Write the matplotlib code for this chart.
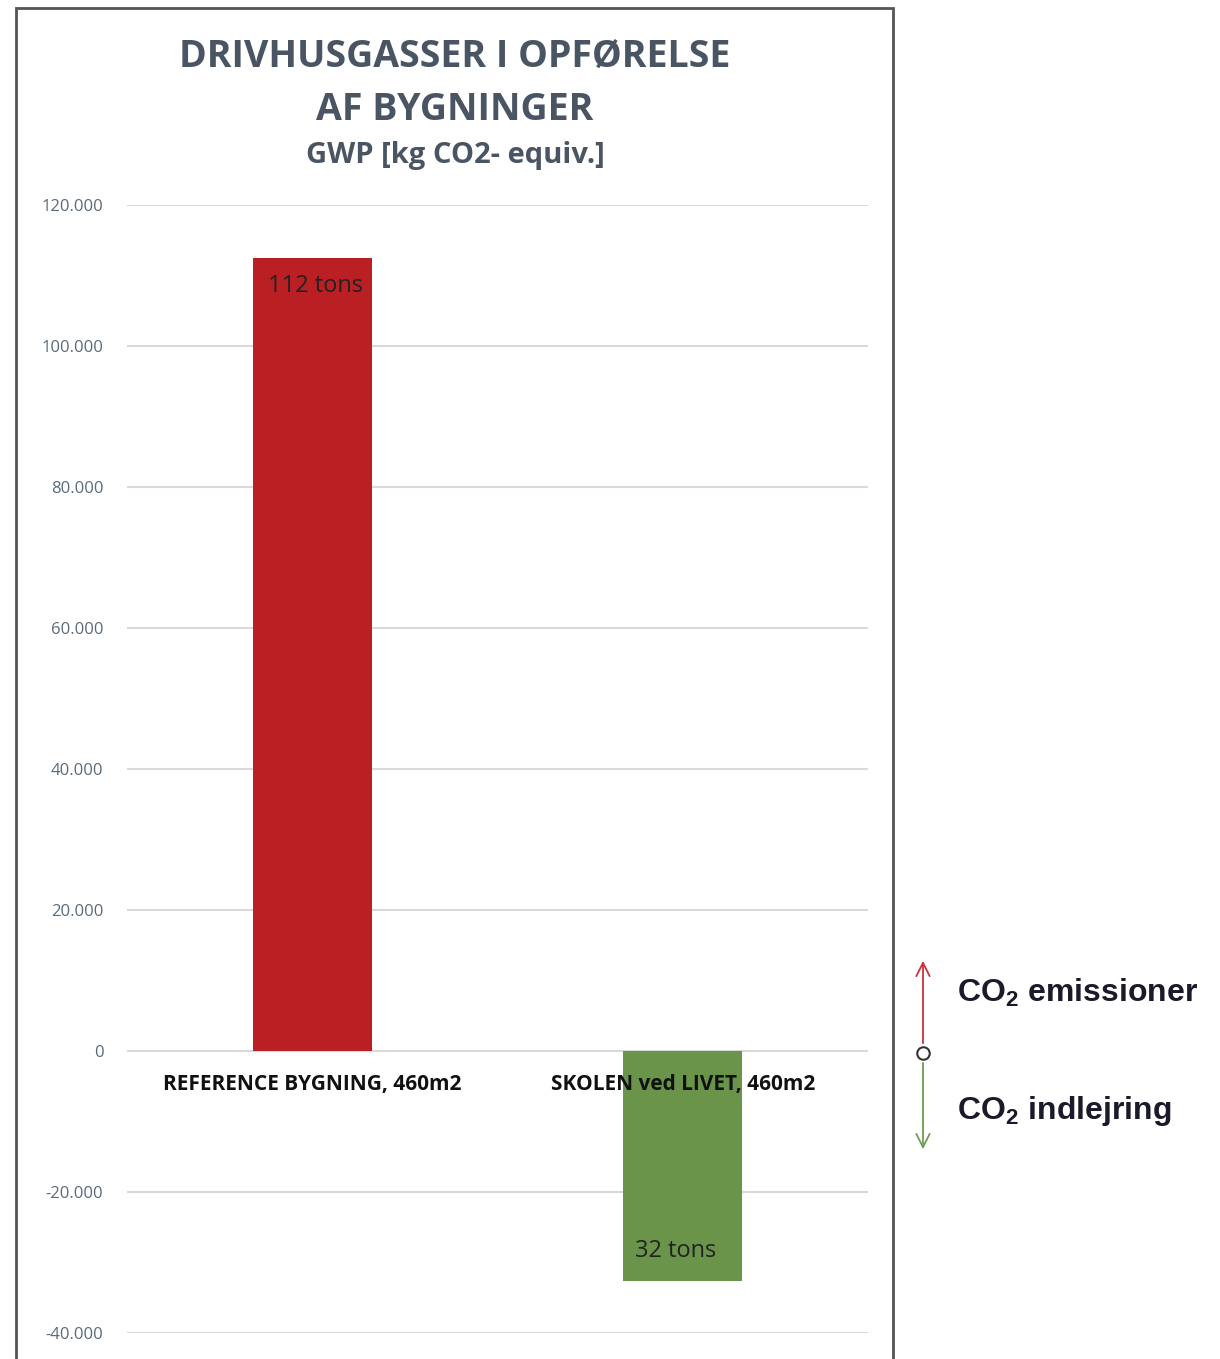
import matplotlib
matplotlib.use('Agg')
import matplotlib.pyplot as plt
from matplotlib.patches import Rectangle, FancyArrowPatch

categories = ['REFERENCE BYGNING, 460m2', 'SKOLEN ved LIVET, 460m2']
values = [112500, -32600]
bar_labels = ['112 tons', '32 tons']
colors = ['#BA1F24', '#6A944A']
yticks = [-40000, -20000, 0, 20000, 40000, 60000, 80000, 100000, 120000]
ytick_labels = ['-40.000', '-20.000', '0', '20.000', '40.000', '60.000', '80.000', '100.000', '120.000']
side_labels = [r'CO$_\mathbf{2}$ emissioner', r'CO$_\mathbf{2}$ indlejring']

plt.rcParams['mathtext.fontset'] = 'custom'
plt.rcParams['mathtext.bf'] = 'Liberation Sans:bold'
plt.rcParams['mathtext.rm'] = 'Liberation Sans:bold'

W, H = 1220, 1359
fig = plt.figure(figsize=(W / 100, H / 100), dpi=100)
fam = ['Open Sans', 'DejaVu Sans']

# chart frame
fig.patches.append(Rectangle((16 / W, -0.01), (893 - 16) / W, 1 - 8 / H + 0.01,
                             transform=fig.transFigure, fill=False,
                             edgecolor='#555555', linewidth=2))

# axes: x 127..868, y from 0 at 1051; 20000 per 141 px
y_top = 205
y_bot = 1333
ax = fig.add_axes([127 / W, 1 - y_bot / H, (868 - 127) / W, (y_bot - y_top) / H])
ax.set_xlim(-0.5, 1.5)
ax.set_ylim(-40000, 120000)
ax.bar(range(len(values)), values, width=0.32, color=colors, zorder=3)
ax.set_yticks(yticks)
ax.set_yticklabels(ytick_labels, family=fam, fontsize=12, color='#5A6A7A')
ax.tick_params(axis='y', length=0, pad=17)
ax.set_xticks([])
for s in ax.spines.values():
    s.set_visible(False)
ax.grid(axis='y', color='#D9D9D9', linewidth=1.5, zorder=0)
ax.set_facecolor('none')

for i, (v, lab) in enumerate(zip(values, bar_labels)):
    if v > 0:
        ax.text(i + 0.01, v - 4000, lab, ha='center', va='center',
                family=fam, fontsize=17, color='#222222', zorder=4)
    else:
        ax.text(i - 0.02, v + 4200, lab, ha='center', va='center',
                family=fam, fontsize=17, color='#222222', zorder=4)

for i, c in enumerate(categories):
    ax.text(i, -4700, c, ha='center', va='center', family=fam,
            fontsize=15, fontweight='bold', color='#111111', zorder=4)

# titles
fig.text(455 / W, 1 - 57 / H, 'DRIVHUSGASSER I OPFØRELSE', ha='center', va='center',
         family=fam, fontsize=27, fontweight='bold', color='#4A5564')
fig.text(455 / W, 1 - 110 / H, 'AF BYGNINGER', ha='center', va='center',
         family=fam, fontsize=27, fontweight='bold', color='#4A5564')
fig.text(455 / W, 1 - 156 / H, 'GWP [kg CO2- equiv.]', ha='center', va='center',
         family=fam, fontsize=21, fontweight='bold', color='#4A5564')

# side legend arrows
ax_x = 923 / W
fig.patches.append(FancyArrowPatch((ax_x, 1 - 1046 / H), (ax_x, 1 - 958 / H),
                                   transform=fig.transFigure, arrowstyle='->',
                                   mutation_scale=24, color='#C8333D', linewidth=1.3))
fig.patches.append(FancyArrowPatch((ax_x, 1 - 1060 / H), (ax_x, 1 - 1152 / H),
                                   transform=fig.transFigure, arrowstyle='->',
                                   mutation_scale=24, color='#6E9E52', linewidth=1.3))
fig.lines.append(plt.Line2D([ax_x], [1 - 1053 / H], transform=fig.transFigure,
                            marker='o', markersize=9, markerfacecolor='white',
                            markeredgecolor='#333333', markeredgewidth=1.5))

for ty, txt in zip([993, 1111], side_labels):
    fig.text(957 / W, 1 - ty / H, txt, ha='left', va='center',
             family='Liberation Sans', fontsize=23, fontweight='bold', color='#1A1A2A')

fig.savefig('out.png', dpi=100)
